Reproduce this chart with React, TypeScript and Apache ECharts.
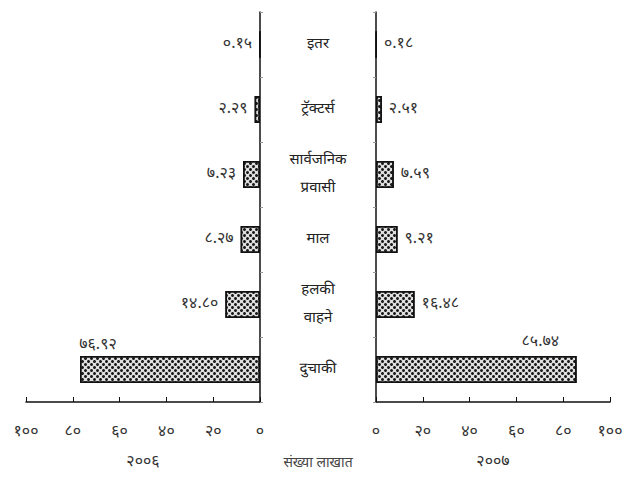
import React, { useEffect, useRef } from "react";
import * as echarts from "echarts";

const categories = ["इतर", "ट्रॅक्टर्स", "सार्वजनिक प्रवासी", "माल", "हलकी वाहने", "दुचाकी"];
const values2006 = [0.15, 2.29, 7.23, 8.27, 14.8, 76.92];
const values2007 = [0.18, 2.51, 7.59, 9.21, 16.48, 85.74];
const yearLeft = "२००६";
const yearRight = "२००७";
const unitLabel = "संख्या लाखात";

const FONT = '"Noto Sans Devanagari", "Lohit Devanagari", "Noto Sans", sans-serif';
const DEV = "०१२३४५६७८९";
const toDev = (s: string) => s.replace(/[0-9]/g, (d) => DEV[+d]);

export default function App() {
  const ref = useRef<HTMLDivElement>(null);
  useEffect(() => {
    if (!ref.current) return;
    const chart = echarts.init(ref.current, undefined, { renderer: "svg" });
    const decal = {
      symbol: "circle",
      symbolSize: 1,
      color: "#1a1a1a",
      dashArrayX: [[3, 3], [0, 3, 3, 0]],
      dashArrayY: [3, 0],
    };
    const barStyle = { color: "#e0e0e0", borderColor: "#111", borderWidth: 1.5, decal };
    const valueLabel = {
      show: true,
      color: "#333",
      fontSize: 16,
      fontFamily: FONT,
      distance: 7,
      formatter: (p: any) => toDev(Number(p.value).toFixed(2)),
    };
    const axisLine = { show: true, lineStyle: { color: "#111", width: 1.5 } };
    const xCommon = {
      type: "value" as const,
      min: 0,
      max: 100,
      interval: 20,
      splitLine: { show: false },
      axisLine,
      axisTick: { show: true, inside: true, length: 5, lineStyle: { color: "#111" } },
      axisLabel: {
        color: "#333",
        fontSize: 16,
        fontFamily: FONT,
        margin: 22,
        formatter: (v: number) => toDev(String(v)),
      },
      nameLocation: "middle" as const,
      nameGap: 52,
      nameTextStyle: { color: "#333", fontSize: 16, fontFamily: FONT },
    };
    chart.setOption({
      animation: false,
      textStyle: { fontFamily: FONT },
      grid: [
        { left: 26, right: 366, top: 12, bottom: 78 },
        { left: 376, right: 16, top: 12, bottom: 78 },
      ],
      xAxis: [
        { ...xCommon, gridIndex: 0, inverse: true, name: yearLeft },
        { ...xCommon, gridIndex: 1, name: yearRight },
      ],
      yAxis: [
        {
          type: "category",
          gridIndex: 0,
          data: categories,
          inverse: true,
          position: "right",
          axisLine,
          axisTick: { show: true, length: 3, lineStyle: { color: "#999" } },
          axisLabel: { show: false },
        },
        {
          type: "category",
          gridIndex: 1,
          data: categories,
          inverse: true,
          position: "left",
          axisLine,
          axisTick: { show: true, length: 3, lineStyle: { color: "#999" } },
          axisLabel: {
            show: true,
            margin: 58,
            align: "center",
            fontSize: 15,
            lineHeight: 28,
            color: "#222",
            fontFamily: FONT,
            formatter: (v: string) => v.replace(" ", "\n"),
          },
        },
      ],
      series: [
        {
          type: "bar",
          xAxisIndex: 0,
          yAxisIndex: 0,
          barWidth: 27,
          itemStyle: barStyle,
          label: { ...valueLabel, position: "left" },
          data: values2006.map((v, i) =>
            i === values2006.length - 1
              ? { value: v, label: { position: "top", distance: 3, offset: [-72, 0] } }
              : v
          ),
        },
        {
          type: "bar",
          xAxisIndex: 1,
          yAxisIndex: 1,
          barWidth: 27,
          itemStyle: barStyle,
          label: { ...valueLabel, position: "right" },
          data: values2007.map((v, i) =>
            i === values2007.length - 1
              ? { value: v, label: { position: "top", distance: 6, offset: [64, 0] } }
              : v
          ),
        },
      ],
      graphic: [
        {
          type: "text",
          x: 318,
          y: 463,
          style: {
            text: unitLabel,
            fill: "#444",
            fontSize: 14,
            fontFamily: FONT,
            textAlign: "center",
            textVerticalAlign: "middle",
          },
        },
      ],
    });
    return () => chart.dispose();
  }, []);
  return <div ref={ref} style={{ width: 626, height: 480, position: "absolute", left: 0, top: 0 }} />;
}
